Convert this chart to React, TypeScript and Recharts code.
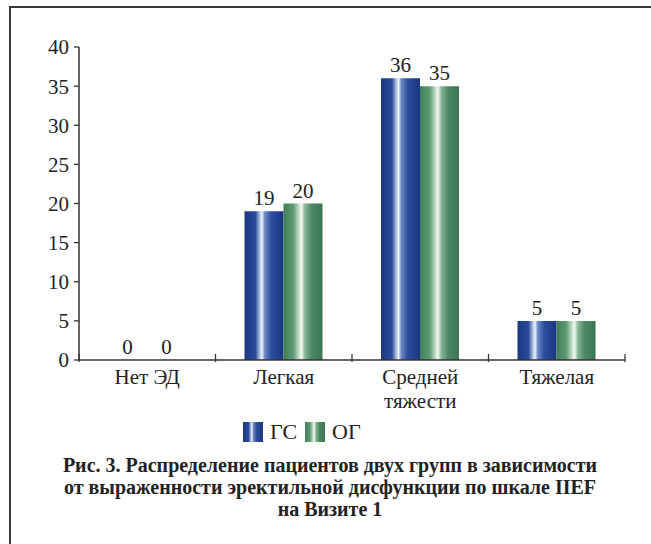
import { BarChart, Bar, XAxis, YAxis, LabelList, Legend } from 'recharts';

// severity categories (\n = forced line break in tick label)
const categories = ['Нет ЭД', 'Легкая', 'Средней\nтяжести', 'Тяжелая'];
const gsValues = [0, 19, 36, 5];
const ogValues = [0, 20, 35, 5];
const yTicks = [0, 5, 10, 15, 20, 25, 30, 35, 40];
const seriesNames = ['ГС', 'ОГ'];

const FONT = '"Liberation Serif", "Times New Roman", serif';
const INK = '#222';
const FS = 21;

const chartData = categories.map((name, i) => ({
    name,
    gs: gsValues[i],
    og: ogValues[i],
}));

const CategoryTick = (props: any) => {
    const { x, y, payload, index, visibleTicksCount } = props;
    const half = payload?.offset ?? 68;
    const lines = String(payload.value).split('\n');
    const isLast = index === (visibleTicksCount ?? categories.length) - 1;
    return (
        <g>
            <line x1={x - half} x2={x - half} y1={y - 8} y2={y} stroke="#333" strokeWidth={1.3} />
            {isLast && (
                <line x1={x + half} x2={x + half} y1={y - 8} y2={y} stroke="#333" strokeWidth={1.3} />
            )}
            <text x={x} y={y + 22} textAnchor="middle" fontFamily={FONT} fontSize={FS} fill={INK}>
                {lines.map((l, i) => (
                    <tspan key={i} x={x} dy={i === 0 ? 0 : 24}>
                        {l}
                    </tspan>
                ))}
            </text>
        </g>
    );
};

const LegendContent = () => (
    <div style={{ display: 'flex', alignItems: 'center', paddingLeft: 243, fontFamily: FONT, fontSize: 22, color: INK }}>
        {seriesNames.map((n, i) => (
            <div key={n} style={{ display: 'flex', alignItems: 'center', marginRight: 8 }}>
                <svg width={20} height={20} style={{ marginRight: 7 }}>
                    <rect width={20} height={20} fill={i === 0 ? 'url(#gradBlue)' : 'url(#gradGreen)'} />
                </svg>
                <span>{n}</span>
            </div>
        ))}
    </div>
);

const labelStyle = { fontFamily: FONT, fontSize: FS, fill: INK };

export default function App() {
    return (
        <div style={{ position: 'absolute', left: 0, top: 0, width: 651, height: 544, background: '#fff' }}>
            <div
                style={{
                    position: 'absolute',
                    left: 9,
                    top: 6,
                    width: 642,
                    height: 538,
                    borderTop: '2px solid #3a3a3a',
                    borderLeft: '2px solid #3a3a3a',
                }}
            />
            <svg width={0} height={0} style={{ position: 'absolute' }}>
                <defs>
                    <linearGradient id="gradBlue" x1="0" y1="0" x2="1" y2="0">
                        <stop offset="0%" stopColor="#1b3781" />
                        <stop offset="28%" stopColor="#2a4a9a" />
                        <stop offset="40%" stopColor="#b8c8e8" />
                        <stop offset="45%" stopColor="#eef2fa" />
                        <stop offset="52%" stopColor="#6d88c4" />
                        <stop offset="68%" stopColor="#2d4f9f" />
                        <stop offset="100%" stopColor="#1a3580" />
                    </linearGradient>
                    <linearGradient id="gradGreen" x1="0" y1="0" x2="1" y2="0">
                        <stop offset="0%" stopColor="#3f7f58" />
                        <stop offset="25%" stopColor="#5d9a72" />
                        <stop offset="40%" stopColor="#c8e0cf" />
                        <stop offset="46%" stopColor="#f2f8f3" />
                        <stop offset="55%" stopColor="#86b795" />
                        <stop offset="72%" stopColor="#4b8963" />
                        <stop offset="100%" stopColor="#3a7652" />
                    </linearGradient>
                </defs>
            </svg>
            <div style={{ position: 'absolute', left: 0, top: 0 }}>
                <BarChart
                    width={651}
                    height={455}
                    data={chartData}
                    margin={{ top: 47, right: 26, left: 0, bottom: 12 }}
                    barGap={0}
                    barSize={39}
                >
                    <YAxis
                        domain={[0, 40]}
                        ticks={yTicks}
                        width={79}
                        tickSize={5}
                        tickMargin={5}
                        interval={0}
                        tick={{ fontFamily: FONT, fontSize: FS, fill: INK }}
                        axisLine={{ stroke: '#333', strokeWidth: 1.5 }}
                        tickLine={{ stroke: '#333', strokeWidth: 1.3 }}
                    />
                    <XAxis
                        dataKey="name"
                        height={59}
                        interval={0}
                        tickLine={false}
                        tickSize={0}
                        tick={<CategoryTick />}
                        axisLine={{ stroke: '#333', strokeWidth: 1.5 }}
                    />
                    <Legend verticalAlign="bottom" height={24} wrapperStyle={{ left: 0, width: 651 }} content={<LegendContent />} />
                    <Bar dataKey="gs" name={seriesNames[0]} fill="url(#gradBlue)" minPointSize={0.01} isAnimationActive={false}>
                        <LabelList dataKey="gs" position="top" offset={6} style={labelStyle} />
                    </Bar>
                    <Bar dataKey="og" name={seriesNames[1]} fill="url(#gradGreen)" minPointSize={0.01} isAnimationActive={false}>
                        <LabelList dataKey="og" position="top" offset={6} style={labelStyle} />
                    </Bar>
                </BarChart>
            </div>
            <div
                style={{
                    position: 'absolute',
                    left: 10,
                    top: 454,
                    width: 640,
                    textAlign: 'center',
                    fontFamily: FONT,
                    fontWeight: 'bold',
                    fontSize: 20,
                    lineHeight: '22px',
                    color: INK,
                }}
            >
                Рис. 3. Распределение пациентов двух групп в зависимости
                <br />
                от выраженности эректильной дисфункции по шкале IIEF
                <br />
                на Визите 1
            </div>
        </div>
    );
}
